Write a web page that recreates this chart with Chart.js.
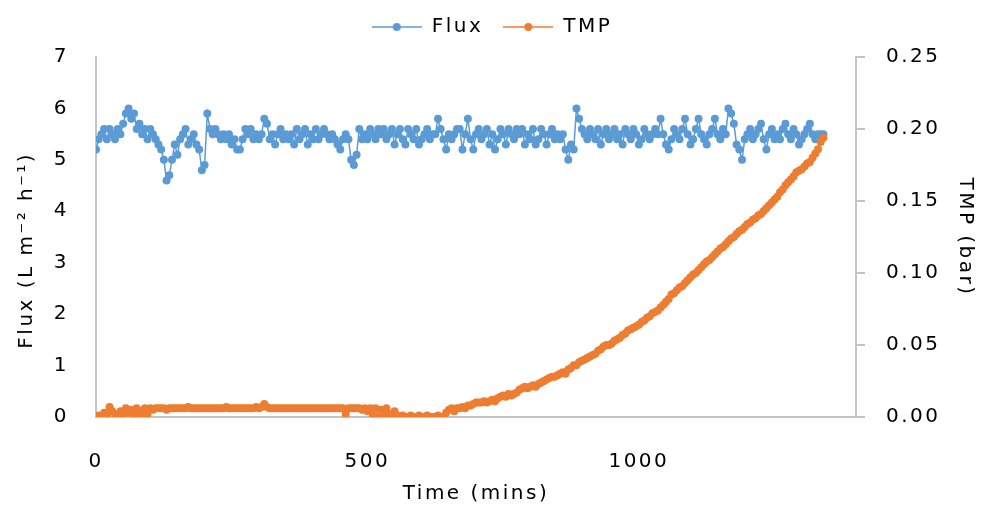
<!DOCTYPE html>
<html lang="en">
<head>
  <meta charset="UTF-8" />
  <title>Flux and TMP vs time</title>
  <script src="https://cdn.jsdelivr.net/npm/chart.js"></script>
  <style>
    html, body { margin: 0; padding: 0; background: #fff; }
    #wrap { width: 984px; height: 506px; }
  </style>
</head>
<body>
  <div id="wrap"><canvas id="fluxChart"></canvas></div>

  <script>
    // time in minutes, one row per hour
    const times = [
      0, 5, 10, 15, 20, 25, 30, 35, 40, 45, 50, 55,
      60, 65, 70, 75, 80, 85, 90, 95, 100, 105, 110, 115,
      120, 125, 130, 135, 140, 145, 150, 155, 160, 165, 170, 175,
      180, 185, 190, 195, 200, 205, 210, 215, 220, 225, 230, 235,
      240, 245, 250, 255, 260, 265, 270, 275, 280, 285, 290, 295,
      300, 305, 310, 315, 320, 325, 330, 335, 340, 345, 350, 355,
      360, 365, 370, 375, 380, 385, 390, 395, 400, 405, 410, 415,
      420, 425, 430, 435, 440, 445, 450, 455, 460, 465, 470, 475,
      480, 485, 490, 495, 500, 505, 510, 515, 520, 525, 530, 535,
      540, 545, 550, 555, 560, 565, 570, 575, 580, 585, 590, 595,
      600, 605, 610, 615, 620, 625, 630, 635, 640, 645, 650, 655,
      660, 665, 670, 675, 680, 685, 690, 695, 700, 705, 710, 715,
      720, 725, 730, 735, 740, 745, 750, 755, 760, 765, 770, 775,
      780, 785, 790, 795, 800, 805, 810, 815, 820, 825, 830, 835,
      840, 845, 850, 855, 860, 865, 870, 875, 880, 885, 890, 895,
      900, 905, 910, 915, 920, 925, 930, 935, 940, 945, 950, 955,
      960, 965, 970, 975, 980, 985, 990, 995, 1000, 1005, 1010, 1015,
      1020, 1025, 1030, 1035, 1040, 1045, 1050, 1055, 1060, 1065, 1070, 1075,
      1080, 1085, 1090, 1095, 1100, 1105, 1110, 1115, 1120, 1125, 1130, 1135,
      1140, 1145, 1150, 1155, 1160, 1165, 1170, 1175, 1180, 1185, 1190, 1195,
      1200, 1205, 1210, 1215, 1220, 1225, 1230, 1235, 1240, 1245, 1250, 1255,
      1260, 1265, 1270, 1275, 1280, 1285, 1290, 1295, 1300, 1305, 1310, 1315,
      1320, 1325, 1330, 1335, 1340
    ];

    // Flux (L m-2 h-1)
    const flux = [
      5.2, 5.4, 5.5, 5.6, 5.4, 5.6, 5.5, 5.4, 5.6, 5.5, 5.7, 5.9,
      6.0, 5.8, 5.9, 5.6, 5.7, 5.5, 5.6, 5.4, 5.6, 5.5, 5.4, 5.3,
      5.2, 5.0, 4.6, 4.7, 5.0, 5.3, 5.1, 5.4, 5.5, 5.6, 5.3, 5.4,
      5.5, 5.3, 5.2, 4.8, 4.9, 5.9, 5.6, 5.5, 5.6, 5.5, 5.4, 5.5,
      5.4, 5.5, 5.3, 5.4, 5.2, 5.2, 5.4, 5.6, 5.5, 5.6, 5.4, 5.5,
      5.4, 5.5, 5.8, 5.7, 5.4, 5.5, 5.3, 5.5, 5.6, 5.4, 5.5, 5.4,
      5.5, 5.3, 5.6, 5.4, 5.5, 5.6, 5.3, 5.5, 5.4, 5.6, 5.4, 5.5,
      5.6, 5.5, 5.4, 5.5, 5.4, 5.3, 5.2, 5.4, 5.5, 5.4, 5.0, 4.9,
      5.1, 5.6, 5.4, 5.5, 5.4, 5.6, 5.5, 5.4, 5.6, 5.5, 5.6, 5.4,
      5.5, 5.6, 5.3, 5.5, 5.6, 5.4, 5.3, 5.6, 5.5, 5.4, 5.6, 5.3,
      5.4, 5.5, 5.6, 5.4, 5.5, 5.5, 5.8, 5.6, 5.4, 5.2, 5.5, 5.4,
      5.5, 5.6, 5.6, 5.2, 5.5, 5.8, 5.4, 5.2, 5.5, 5.6, 5.4, 5.5,
      5.6, 5.3, 5.5, 5.2, 5.4, 5.6, 5.5, 5.3, 5.6, 5.5, 5.4, 5.6,
      5.5, 5.6, 5.3, 5.5, 5.4, 5.6, 5.3, 5.4, 5.6, 5.5, 5.3, 5.5,
      5.6, 5.4, 5.5, 5.4, 5.5, 5.2, 5.0, 5.3, 5.2, 6.0, 5.8, 5.6,
      5.5, 5.4, 5.6, 5.5, 5.4, 5.6, 5.3, 5.5, 5.6, 5.4, 5.5, 5.6,
      5.4, 5.5, 5.3, 5.6, 5.5, 5.4, 5.6, 5.5, 5.3, 5.4, 5.6, 5.5,
      5.4, 5.5, 5.6, 5.5, 5.8, 5.5, 5.3, 5.2, 5.4, 5.6, 5.5, 5.4,
      5.6, 5.8, 5.5, 5.3, 5.4, 5.6, 5.8, 5.5, 5.4, 5.3, 5.5, 5.6,
      5.8, 5.5, 5.4, 5.6, 5.5, 6.0, 5.9, 5.7, 5.3, 5.2, 5.0, 5.4,
      5.5, 5.6, 5.4, 5.5, 5.6, 5.7, 5.4, 5.2, 5.5, 5.6, 5.4, 5.5,
      5.4, 5.6, 5.7, 5.5, 5.4, 5.6, 5.5, 5.3, 5.4, 5.5, 5.6, 5.7,
      5.5, 5.4, 5.5, 5.5, 5.5
    ];

    // TMP (bar)
    const tmp = [
      0.000, 0.001, 0.000, 0.003, 0.001, 0.007, 0.004, 0.002, 0.000, 0.004, 0.002, 0.006,
      0.003, 0.005, 0.001, 0.006, 0.004, 0.000, 0.006, 0.002, 0.006, 0.005, 0.006, 0.006,
      0.006, 0.006, 0.005, 0.006, 0.006, 0.006, 0.006, 0.006, 0.006, 0.006, 0.007, 0.006,
      0.006, 0.006, 0.006, 0.006, 0.006, 0.006, 0.006, 0.006, 0.006, 0.006, 0.006, 0.006,
      0.007, 0.006, 0.006, 0.006, 0.006, 0.006, 0.006, 0.006, 0.006, 0.006, 0.006, 0.007,
      0.006, 0.007, 0.009, 0.007, 0.006, 0.006, 0.006, 0.006, 0.006, 0.006, 0.006, 0.006,
      0.006, 0.006, 0.006, 0.006, 0.006, 0.006, 0.006, 0.006, 0.006, 0.006, 0.006, 0.006,
      0.006, 0.006, 0.006, 0.006, 0.006, 0.006, 0.006, 0.006, 0.002, 0.006, 0.006, 0.006,
      0.006, 0.006, 0.005, 0.006, 0.004, 0.006, 0.001, 0.006, 0.000, 0.005, 0.001, 0.006,
      0.002, 0.000, 0.004, 0.001, 0.000, 0.001, 0.000, 0.000, 0.001, 0.000, 0.000, 0.001,
      0.000, 0.000, 0.001, 0.000, 0.000, 0.000, 0.001, 0.000, 0.000, 0.003, 0.005, 0.006,
      0.004, 0.006, 0.006, 0.007, 0.006, 0.008, 0.008, 0.009, 0.010, 0.010, 0.010, 0.011,
      0.010, 0.011, 0.012, 0.011, 0.013, 0.014, 0.015, 0.014, 0.016, 0.015, 0.016, 0.017,
      0.019, 0.020, 0.021, 0.020, 0.021, 0.022, 0.021, 0.023, 0.024, 0.025, 0.026, 0.027,
      0.028, 0.028, 0.029, 0.030, 0.031, 0.030, 0.033, 0.034, 0.036, 0.036, 0.038, 0.039,
      0.040, 0.041, 0.042, 0.043, 0.044, 0.046, 0.047, 0.049, 0.050, 0.050, 0.051, 0.053,
      0.054, 0.055, 0.057, 0.058, 0.060, 0.061, 0.062, 0.063, 0.064, 0.066, 0.067, 0.069,
      0.070, 0.072, 0.073, 0.074, 0.076, 0.078, 0.080, 0.082, 0.085, 0.086, 0.088, 0.090,
      0.091, 0.093, 0.095, 0.097, 0.099, 0.100, 0.102, 0.104, 0.106, 0.108, 0.109, 0.111,
      0.113, 0.115, 0.117, 0.118, 0.120, 0.122, 0.124, 0.125, 0.127, 0.129, 0.130, 0.132,
      0.134, 0.135, 0.137, 0.138, 0.140, 0.141, 0.143, 0.145, 0.147, 0.149, 0.151, 0.153,
      0.156, 0.158, 0.161, 0.163, 0.165, 0.167, 0.170, 0.171, 0.172, 0.174, 0.176, 0.177,
      0.180, 0.183, 0.186, 0.191, 0.194
    ];

    const fluxTicks = [0, 1, 2, 3, 4, 5, 6, 7];
    const tmpTicks = [0, 0.05, 0.10, 0.15, 0.20, 0.25];
    const timeTicks = [0, 500, 1000];

    const BLUE = '#5B9BD5';
    const ORANGE = '#ED7D31';
    const AXIS = '#C4C4C4';
    const FONT = 'DejaVu Sans';

    // small "line with a dot" icon for the legend, like Excel's
    function legendIcon(color) {
      const c = document.createElement('canvas');
      c.width = 50; c.height = 10;
      const g = c.getContext('2d');
      g.strokeStyle = color; g.lineWidth = 1.5;
      g.beginPath(); g.moveTo(0, 5); g.lineTo(50, 5); g.stroke();
      g.fillStyle = color;
      g.beginPath(); g.arc(25, 5, 4, 0, Math.PI * 2); g.fill();
      return c;
    }

    // wider text spacing (the original font is quite spread out),
    // and lift the legend a bit closer to the top edge
    const tweaks = {
      id: 'tweaks',
      beforeLayout(chart) { chart.ctx.letterSpacing = '2.5px'; },
      afterLayout(chart) {
        if (chart.legend) { chart.legend.top -= 10; chart.legend.bottom -= 10; }
      },
      beforeDraw(chart) { chart.ctx.letterSpacing = '2.5px'; }
    };

    const ctx = document.getElementById('fluxChart').getContext('2d');
    const chart = new Chart(ctx, {
      type: 'line',
      data: {
        datasets: [
          {
            label: 'Flux',
            data: times.map((t, i) => ({ x: t, y: flux[i] })),
            yAxisID: 'y',
            borderColor: BLUE,
            backgroundColor: BLUE,
            borderWidth: 1.5,
            pointRadius: 4,
            pointBorderWidth: 0,
            pointHoverRadius: 4,
            order: 2
          },
          {
            label: 'TMP',
            data: times.map((t, i) => ({ x: t, y: tmp[i] })),
            yAxisID: 'y1',
            borderColor: ORANGE,
            backgroundColor: ORANGE,
            borderWidth: 1.5,
            pointRadius: 4,
            pointBorderWidth: 0,
            pointHoverRadius: 4,
            order: 1
          }
        ]
      },
      options: {
        responsive: true,
        maintainAspectRatio: false,
        animation: false,
        layout: { padding: { top: 7, left: 0, right: 0, bottom: 0 } },
        scales: {
          x: {
            type: 'linear',
            min: 0,
            max: 1400,
            afterFit: (s) => { s.height = 89; },
            afterBuildTicks: (s) => { s.ticks = timeTicks.map(v => ({ value: v })); },
            ticks: { color: '#000', font: { family: FONT, size: 20 }, padding: 33, maxRotation: 0, callback: (v) => String(v) },
            grid: { display: false, drawTicks: false },
            border: { display: true, color: AXIS, width: 2 },
            title: { display: true, text: 'Time (mins)', color: '#000', font: { family: FONT, size: 20 }, padding: { top: 0, bottom: 0 } }
          },
          y: {
            position: 'left',
            min: 0,
            max: 7,
            afterFit: (s) => { s.width = 96; },
            afterBuildTicks: (s) => { s.ticks = fluxTicks.map(v => ({ value: v })); },
            ticks: { color: '#000', font: { family: FONT, size: 20 }, padding: 27 },
            grid: { display: false, drawTicks: false },
            border: { display: true, color: AXIS, width: 2 },
            title: { display: true, text: 'Flux (L m\u207B\u00B2 h\u207B\u00B9)   ', color: '#000', font: { family: FONT, size: 20 }, padding: { top: 15, bottom: 0 } }
          },
          y1: {
            position: 'right',
            min: 0,
            max: 0.25,
            afterFit: (s) => { s.width = 128; },
            afterBuildTicks: (s) => { s.ticks = tmpTicks.map(v => ({ value: v })); },
            ticks: { color: '#000', font: { family: FONT, size: 20 }, padding: 21, callback: (v) => v.toFixed(2) },
            grid: { display: true, drawOnChartArea: false, drawTicks: true, tickLength: 9, color: AXIS, lineWidth: 2 },
            border: { display: true, color: AXIS, width: 2 },
            title: { display: true, text: 'TMP (bar)', color: '#000', font: { family: FONT, size: 20 }, padding: { top: 7, bottom: 0 } }
          }
        },
        plugins: {
          legend: {
            position: 'top',
            labels: {
              usePointStyle: true,
              pointStyleWidth: 50,
              padding: 20,
              color: '#000',
              font: { family: FONT, size: 20 },
              generateLabels: (c) => c.data.datasets.map((ds, i) => ({
                text: ds.label,
                fillStyle: ds.backgroundColor,
                strokeStyle: ds.borderColor,
                lineWidth: 0,
                pointStyle: legendIcon(ds.borderColor),
                hidden: false,
                datasetIndex: i,
                fontColor: '#000'
              }))
            }
          },
          tooltip: { enabled: false }
        }
      },
      plugins: [tweaks]
    });
  </script>
</body>
</html>
